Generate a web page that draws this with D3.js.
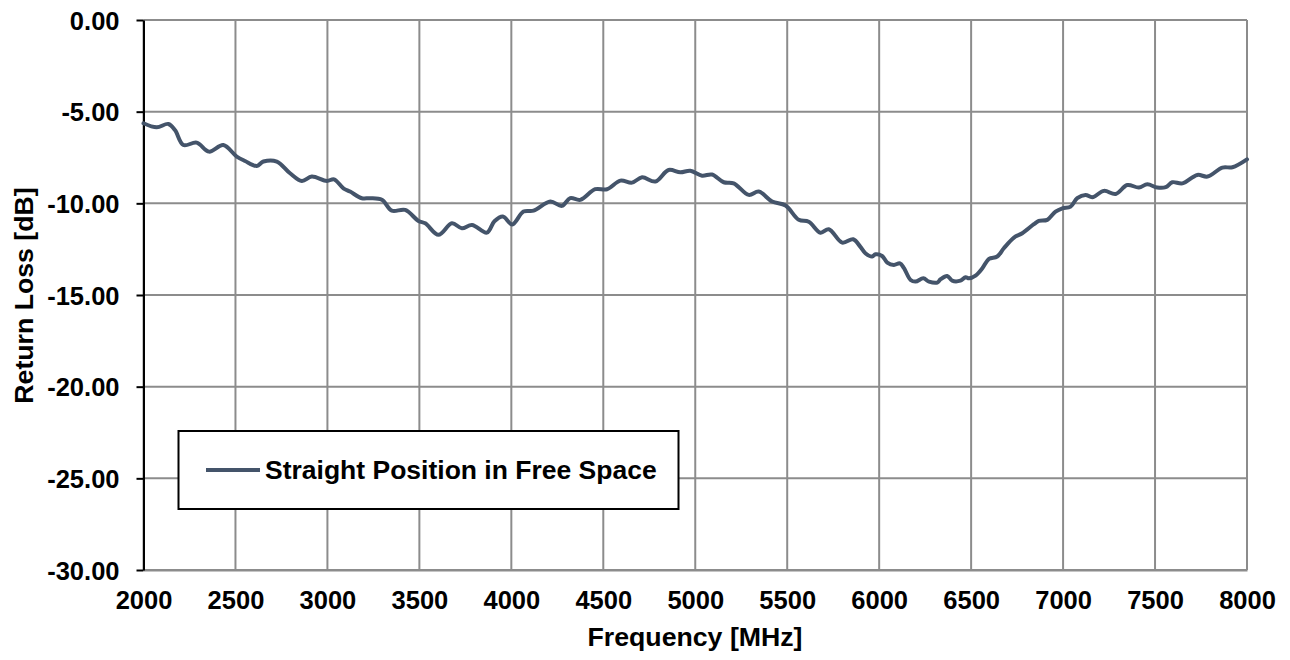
<!DOCTYPE html>
<html><head><meta charset="utf-8">
<script src="https://cdn.jsdelivr.net/npm/d3@7"></script>
<style>
html,body{margin:0;padding:0;background:#fff;}
text{font-family:"Liberation Sans",Arial,sans-serif;font-weight:bold;fill:#000;}
</style></head>
<body>
<svg id="chart" width="1290" height="660"></svg>
<script>
const frequency = [2000,2072,2135,2171,2217,2289,2356,2434,2507,2552,2616,2652,2725,2797,2861,2915,2997,3036,3087,3123,3187,3232,3296,3350,3423,3495,3532,3604,3677,3731,3786,3867,3908,3954,4005,4066,4121,4212,4275,4320,4375,4456,4520,4593,4656,4711,4783,4855,4919,4973,5037,5091,5155,5209,5291,5345,5418,5491,5563,5617,5681,5726,5799,5859,5897,5925,5962,5980,6016,6044,6080,6113,6135,6171,6198,6240,6271,6316,6334,6370,6397,6442,6470,6488,6524,6561,6597,6642,6678,6733,6778,6841,6868,6914,6959,6996,7041,7077,7122,7159,7222,7286,7349,7412,7458,7512,7558,7594,7649,7730,7785,7866,7921,8000];
const returnLoss = [-5.63,-5.85,-5.67,-6.0,-6.82,-6.69,-7.18,-6.82,-7.45,-7.69,-7.96,-7.72,-7.72,-8.36,-8.78,-8.54,-8.78,-8.69,-9.18,-9.36,-9.72,-9.72,-9.81,-10.40,-10.36,-10.96,-11.09,-11.72,-11.09,-11.36,-11.18,-11.6,-10.98,-10.72,-11.15,-10.45,-10.40,-9.9,-10.14,-9.72,-9.81,-9.23,-9.23,-8.76,-8.87,-8.58,-8.81,-8.18,-8.31,-8.22,-8.49,-8.43,-8.85,-8.91,-9.54,-9.36,-9.9,-10.12,-10.9,-11.0,-11.6,-11.41,-12.14,-11.96,-12.36,-12.72,-12.9,-12.78,-12.87,-13.23,-13.36,-13.27,-13.54,-14.18,-14.27,-14.09,-14.27,-14.32,-14.14,-13.96,-14.22,-14.22,-14.03,-14.09,-13.94,-13.54,-13.03,-12.9,-12.45,-11.87,-11.63,-11.14,-10.96,-10.9,-10.45,-10.27,-10.18,-9.72,-9.54,-9.67,-9.32,-9.49,-9.0,-9.14,-8.96,-9.14,-9.12,-8.85,-8.91,-8.45,-8.54,-8.05,-8.03,-7.6];
const xTicks = [2000,2500,3000,3500,4000,4500,5000,5500,6000,6500,7000,7500,8000];
const yTicks = [0,-5,-10,-15,-20,-25,-30];
const seriesName = "Straight Position in Free Space";
const xTitle = "Frequency [MHz]";
const yTitle = "Return Loss [dB]";

const svg = d3.select("#chart");
const L = 143.5, R = 1247, T = 20, B = 570;
const x = d3.scaleLinear().domain([2000,8000]).range([L,R]);
const y = d3.scaleLinear().domain([-30,0]).range([B,T]);
const grid = "#8c8c8c";
const lineColor = "#44546a";

// grid lines
svg.append("g").selectAll("line").data(xTicks).join("line")
  .attr("x1",d=>x(d)).attr("x2",d=>x(d)).attr("y1",T).attr("y2",B)
  .attr("stroke",grid).attr("stroke-width",2);
svg.append("g").selectAll("line").data(yTicks).join("line")
  .attr("x1",L).attr("x2",R).attr("y1",d=>y(d)).attr("y2",d=>y(d))
  .attr("stroke",grid).attr("stroke-width",2);

// x axis
const xAxis = svg.append("g").attr("transform",`translate(0,${B})`)
  .call(d3.axisBottom(x).tickValues(xTicks).tickFormat(d3.format("d")).tickSize(0).tickSizeOuter(0));
xAxis.select(".domain").attr("stroke",grid).attr("stroke-width",2);
xAxis.selectAll(".tick text").attr("font-size",25.5).attr("y",39).attr("dy",0)
  .style("font-family","'Liberation Sans',Arial,sans-serif").style("font-weight","bold").attr("fill","#000");

// y axis
const yAxis = svg.append("g").attr("transform",`translate(${L},0)`)
  .call(d3.axisLeft(y).tickValues(yTicks).tickFormat(d=>d.toFixed(2)).tickSize(7).tickSizeOuter(0));
yAxis.select(".domain").attr("stroke","#000").attr("stroke-width",2);
yAxis.selectAll(".tick line").attr("stroke","#000").attr("stroke-width",2);
yAxis.selectAll(".tick text").attr("font-size",25.5).attr("x",-24).attr("dy","0.36em")
  .style("font-family","'Liberation Sans',Arial,sans-serif").style("font-weight","bold").attr("fill","#000");

// line
const data = frequency.map((f,i)=>({f, v:returnLoss[i]}));
svg.append("path").datum(data)
  .attr("fill","none").attr("stroke",lineColor).attr("stroke-width",4)
  .attr("stroke-linejoin","round").attr("stroke-linecap","round")
  .attr("d", d3.line().x(d=>x(d.f)).y(d=>y(d.v)).curve(d3.curveCatmullRom.alpha(0.5)));

// axis titles
svg.append("text").attr("x",695).attr("y",646).attr("text-anchor","middle")
  .attr("font-size",26.7).text(xTitle);
svg.append("text").attr("transform",`translate(33,${(188+403)/2}) rotate(-90)`).attr("text-anchor","middle")
  .attr("font-size",26.7).text(yTitle);

// legend
const lg = svg.append("g");
lg.append("rect").attr("x",178.5).attr("y",431).attr("width",500).attr("height",78)
  .attr("fill","#fff").attr("stroke","#000").attr("stroke-width",2);
lg.append("line").attr("x1",206).attr("x2",260).attr("y1",470).attr("y2",470)
  .attr("stroke",lineColor).attr("stroke-width",4);
lg.append("text").attr("x",265).attr("y",479).attr("font-size",26.5).text(seriesName);
</script>
</body></html>
